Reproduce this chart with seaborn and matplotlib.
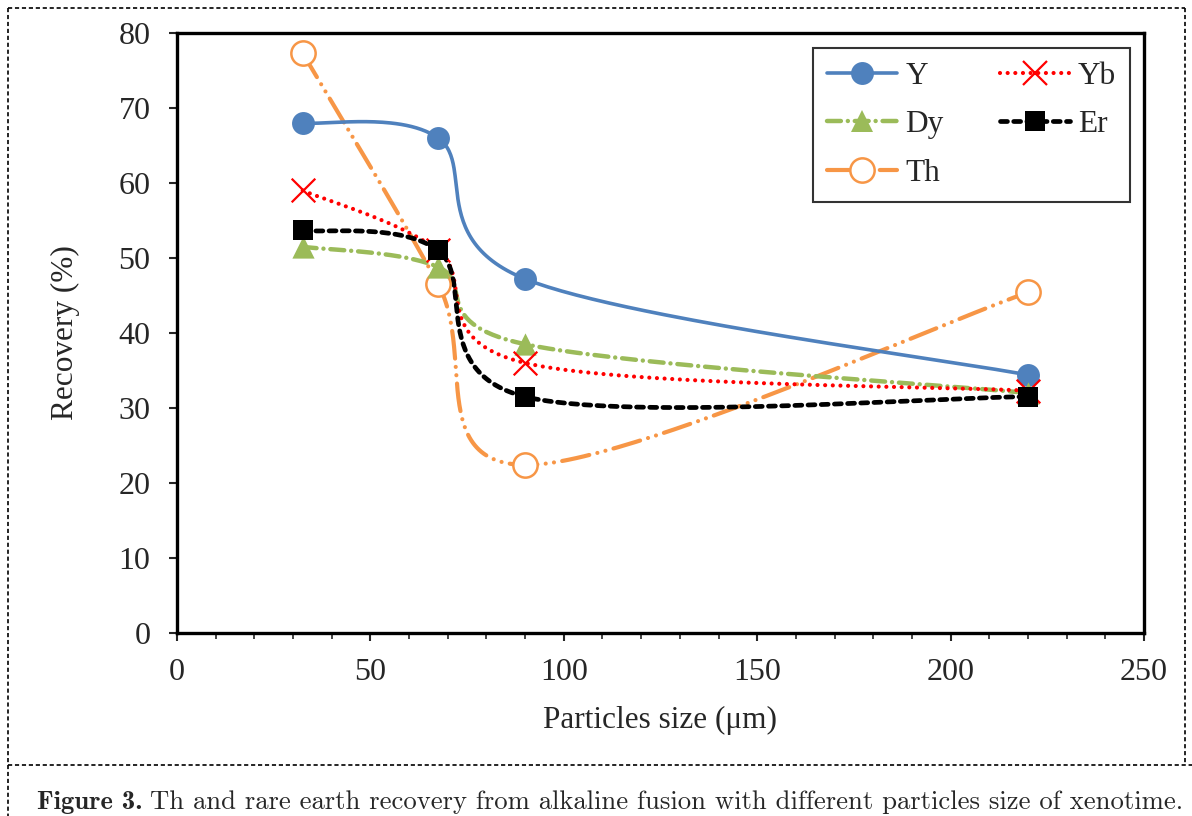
import numpy as np
import pandas as pd
import matplotlib
matplotlib.use("Agg")
import matplotlib.pyplot as plt
from matplotlib.lines import Line2D
from matplotlib.ticker import MultipleLocator
import seaborn as sns

# data
size = [32.5, 67.5, 90, 220]
rec_Y = [68.0, 66.0, 47.2, 34.4]
rec_Yb = [59.0, 51.0, 36.0, 32.3]
rec_Dy = [51.5, 48.8, 38.5, 32.0]
rec_Er = [53.7, 51.0, 31.5, 31.5]
rec_Th = [77.3, 46.5, 22.4, 45.4]
names = ["Y", "Yb", "Dy", "Er", "Th"]

sns.set_style("white")
plt.rcParams["font.family"] = ["Liberation Serif", "DejaVu Serif"]
plt.rcParams["lines.scale_dashes"] = False


def excel_smooth(x, y, n=60):
    # bezier through the points, like excel's "smoothed line"
    p = np.column_stack([x, y]).astype(float)
    ext = np.vstack([p[0], p, p[-1]])
    out = []
    for i in range(len(p) - 1):
        p0, p3 = p[i], p[i + 1]
        c1 = p0 + (ext[i + 2] - ext[i]) / 6
        c2 = p3 - (ext[i + 3] - ext[i + 1]) / 6
        t = np.linspace(0, 1, n)[:, None]
        seg = (1 - t) ** 3 * p0 + 3 * (1 - t) ** 2 * t * c1 + 3 * (1 - t) * t ** 2 * c2 + t ** 3 * p3
        out.append(seg)
    out = np.vstack(out)
    return out[:, 0], out[:, 1]


fig = plt.figure(figsize=(11.92, 8.16), dpi=100)
ax = fig.add_axes([0.1485, 0.2243, 0.8112, 0.7353])

styles = {
    "Y": dict(color="#4F81BD", ls="-", lw=2.6, marker="o", ms=16.5, mfc="#4F81BD", mew=0),
    "Yb": dict(color="#FF0000", ls=(0, (0.01, 5.5)), lw=3.0, marker="x", ms=17, mfc="none", mew=1.6),
    "Dy": dict(color="#9BBB59", ls=(0, (10, 5, 0.01, 5)), lw=3.2, marker="^", ms=16, mfc="#9BBB59", mew=0),
    "Er": dict(color="#000000", ls=(0, (5, 4.5)), lw=3.4, marker="s", ms=14.5, mfc="#000000", mew=0),
    "Th": dict(color="#F79646", ls=(0, (20, 6, 0.01, 6, 0.01, 6)), lw=3.0, marker="o", ms=17.5, mfc="white", mew=1.8),
}
series = {"Y": rec_Y, "Yb": rec_Yb, "Dy": rec_Dy, "Er": rec_Er, "Th": rec_Th}

for nm in ["Th", "Y", "Dy", "Yb", "Er"]:
    st = styles[nm]
    sx, sy = excel_smooth(size, series[nm])
    curve = pd.DataFrame({"x": sx, "y": sy})
    sns.lineplot(data=curve, x="x", y="y", ax=ax, sort=False, estimator=None,
                 color=st["color"], linestyle=st["ls"], linewidth=st["lw"],
                 dash_capstyle="round", solid_capstyle="round")
    pts = pd.DataFrame({"x": size, "y": series[nm]})
    if nm == "Yb":
        sns.scatterplot(data=pts, x="x", y="y", ax=ax, marker="x", s=st["ms"] ** 2,
                        color=st["color"], linewidth=st["mew"], zorder=5)
    else:
        sns.scatterplot(data=pts, x="x", y="y", ax=ax, marker=st["marker"], s=st["ms"] ** 2,
                        facecolor=st["mfc"], edgecolor=st["color"], linewidth=st["mew"], zorder=5)

ax.set_xlim(0, 250)
ax.set_ylim(0, 80)
ax.xaxis.set_major_locator(MultipleLocator(50))
ax.xaxis.set_minor_locator(MultipleLocator(10))
ax.yaxis.set_major_locator(MultipleLocator(10))
for sp in ax.spines.values():
    sp.set_linewidth(2.4)
    sp.set_color("black")
ax.tick_params(axis="both", which="major", direction="out", length=6, width=1.5,
               labelsize=23, bottom=True, left=True)
ax.tick_params(axis="y", which="major", pad=13)
ax.tick_params(axis="x", which="major", pad=12)
ax.tick_params(axis="x", which="minor", direction="out", length=4, width=1.2, bottom=True)
ax.set_xlabel("Particles size (\u03bcm)", fontsize=22.5, labelpad=14)
ax.set_ylabel("Recovery (%)", fontsize=22.5, labelpad=28)

handles = []
for nm in ["Y", "Dy", "Th", "Yb", "Er"]:
    st = styles[nm]
    handles.append(Line2D([], [], color=st["color"], linestyle=st["ls"], linewidth=st["lw"],
                          marker=st["marker"], markersize=st["ms"], markerfacecolor=st["mfc"],
                          markeredgecolor=st["color"], markeredgewidth=st["mew"],
                          dash_capstyle="round"))
leg = ax.legend(handles, ["Y", "Dy", "Th", "Yb", "Er"], ncol=2, loc="upper right",
                bbox_to_anchor=(0.9855, 0.975), borderaxespad=0, fontsize=22.5, frameon=True,
                fancybox=False, handlelength=2.25, columnspacing=1.8, labelspacing=0.62,
                borderpad=0.45, handletextpad=0.25)
leg.get_frame().set_edgecolor("black")
leg.get_frame().set_linewidth(1.5)

# dashed frame around the figure and separator above the caption
W, H = 1192, 816
def fl(x0, y0, x1, y1):
    fig.add_artist(Line2D([x0 / W, x1 / W], [1 - y0 / H, 1 - y1 / H], transform=fig.transFigure,
                          color="black", lw=1.2, linestyle=(0, (3, 2))))
fl(8, 8, 1185, 8)
fl(8, 8, 8, 816)
fl(1185, 8, 1185, 765)
fl(8, 765, 1192, 765)

t1 = fig.text(37 / W, 1 - 809 / H, "Figure 3.", family="cmb10", fontsize=19.2, va="baseline")
fig.canvas.draw()
bb = t1.get_window_extent()
fig.text((bb.x1 + 8) / W, 1 - 809 / H,
         "Th and rare earth recovery from alkaline fusion with different particles size of xenotime.",
         family="cmr10", fontsize=19.2, va="baseline")

fig.savefig("out.png", dpi=100)
